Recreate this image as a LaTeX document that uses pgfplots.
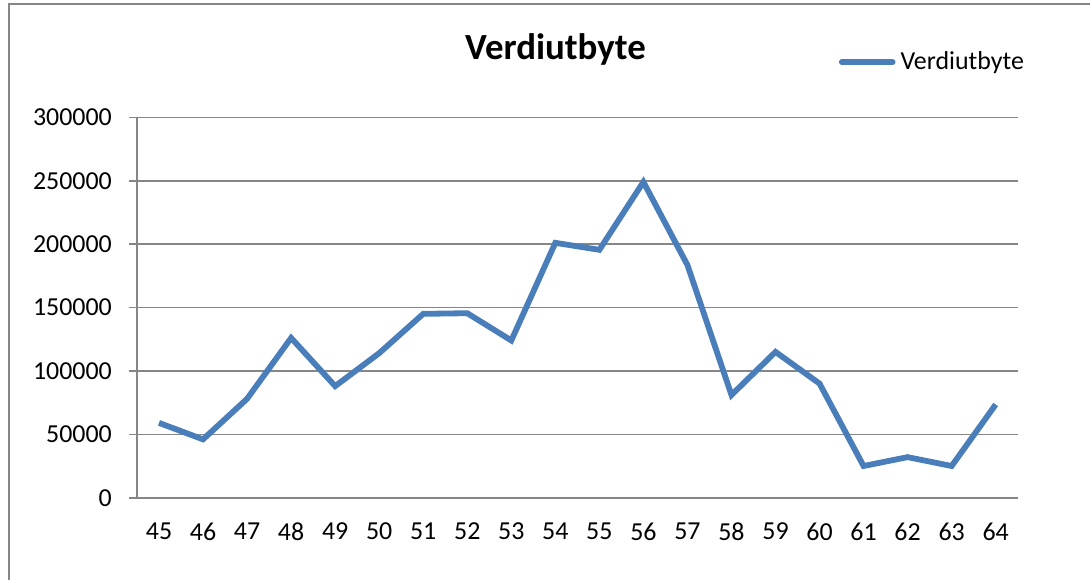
\documentclass[border=0pt]{standalone}
\usepackage{fontspec}
\setmainfont{Carlito}
\usepackage{pgfplots}
\pgfplotsset{compat=1.18}
\definecolor{lineblue}{HTML}{4A7EBB}
\definecolor{gridgray}{HTML}{868686}
\begin{document}
\begin{tikzpicture}
\useasboundingbox (0,0) rectangle (545bp,-290bp);
\fill[white] (-10bp,10bp) rectangle (560bp,-300bp);
\draw[gridgray, line width=0.9bp] (4.5bp,-300bp) -- (4.5bp,-2bp) -- (560bp,-2bp);
\begin{axis}[
  at={(68.5bp,-248.85bp)}, anchor=south west,
  scale only axis, width=440.35bp, height=190.2bp,
  xmin=-0.5, xmax=19.5, ymin=0, ymax=300000,
  axis lines=left, axis line style={-, gridgray, line width=0.8bp},
  xtick={0,...,19},
  xticklabels={45,46,47,48,49,50,51,52,53,54,55,56,57,58,59,60,61,62,63,64},
  xtick style={draw=none},
  minor xtick={-0.5,0.5,...,19.5},
  minor tick length=3.6bp,
  minor x tick style={gridgray, line width=0.8bp},
  ytick={0,50000,...,300000},
  major tick length=3.9bp,
  ytick style={gridgray, line width=0.8bp},
  tick align=outside,
  ymajorgrids, grid style={gridgray, line width=0.8bp},
  scaled y ticks=false,
  /pgf/number format/.cd, fixed, 1000 sep={}, assume math mode=true, /pgfplots/.cd,
  ticklabel style={font=\fontsize{13}{15.5}\selectfont, text=black},
  yticklabel style={anchor=east, inner sep=0pt, xshift=-8.5bp},
  xticklabel style={anchor=north, inner sep=0pt, yshift=-8.5bp},
  legend style={draw=none, fill=none, inner sep=0pt, outer sep=0pt,
    nodes={inner sep=0pt, anchor=west}, column sep=2.5bp,
    font=\fontsize{13}{15.5}\selectfont,
    at={(rel axis cs:0.797,1.145)}, anchor=west},
  legend image code/.code={\draw[#1, line cap=round] (1.3bp,0) -- (26.7bp,0);},
  clip=false,
]
\addplot[lineblue, line width=2.9bp, line join=miter] coordinates {
(0,59000) (1,46000) (2,78000) (3,126000) (4,88000) (5,114000) (6,145000) (7,145500) (8,124000) (9,201000) (10,195500) (11,249000) (12,183500) (13,81000) (14,115000) (15,90000) (16,25000) (17,32000) (18,25000) (19,73500)
};
\addlegendentry{Verdiutbyte}
\end{axis}
\node[anchor=base, inner sep=0pt, font=\fontsize{18.5}{22}\selectfont\bfseries] at (277.75bp,-29.65bp) {Verdiutbyte};
\end{tikzpicture}
\end{document}
